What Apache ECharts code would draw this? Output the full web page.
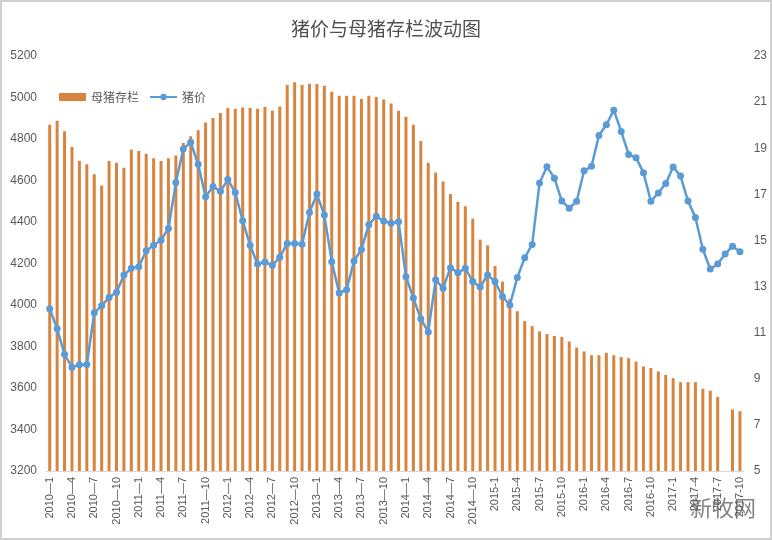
<!DOCTYPE html>
<html>
<head>
<meta charset="utf-8">
<script src="https://cdn.jsdelivr.net/npm/echarts@6/dist/echarts.min.js"></script>
<style>
html,body{margin:0;padding:0;background:#fff;}
#c{width:772px;height:540px;box-sizing:border-box;border:2px solid #d0d0d0;}
</style>
</head>
<body>
<div id="c"></div>
<script>
// Categories: 2010-1 .. 2017-10
const years = [2010,2011,2012,2013,2014,2015,2016,2017];
const categories = [];
years.forEach(y => {
  for (let m = 1; m <= 12; m++) {
    if (y === 2017 && m > 10) break;
    const sep = (y < 2015) ? '—' : '-';
    categories.push(y + sep + m);
  }
});

// 母猪存栏 (left axis, 万头)
const sowInventory = [
  4869,4888,4837,4761,4694,4678,4630,4576,4694,4686,4662,4750,
  4742,4729,4707,4694,4707,4721,4781,4813,4842,4880,4901,4925,
  4949,4946,4952,4949,4946,4954,4937,4957,5060,5073,5060,5066,
  5065,5057,5028,5009,5009,5008,4993,5009,5003,4990,4971,4936,
  4907,4869,4790,4685,4638,4595,4535,4498,4476,4416,4315,4288,
  4188,4113,4030,3970,3922,3898,3873,3860,3851,3846,3824,3795,
  3776,3758,3758,3770,3758,3749,3744,3727,3704,3696,3680,3663,
  3647,3628,3628,3628,3596,3587,3557,null,3497,3488
];

// 猪价 (right axis, 元/kg)
const pigPrice = [
  12.04,11.17,10.06,9.50,9.61,9.62,11.86,12.17,12.53,12.75,13.50,13.79,
  13.86,14.55,14.79,15.01,15.52,17.51,18.97,19.26,18.30,16.90,17.34,17.13,
  17.64,17.08,15.85,14.79,13.98,14.06,13.92,14.27,14.87,14.87,14.84,16.21,
  17.01,16.10,14.08,12.72,12.86,14.11,14.61,15.68,16.05,15.84,15.75,15.81,
  13.43,12.50,11.60,11.03,13.29,12.93,13.82,13.60,13.79,13.22,12.98,13.50,
  13.22,12.57,12.20,13.39,14.25,14.82,17.49,18.20,17.70,16.71,16.40,16.70,
  18.02,18.22,19.55,20.02,20.65,19.73,18.73,18.59,17.94,16.70,17.06,17.47,
  18.19,17.79,16.71,16.00,14.62,13.76,13.98,14.41,14.75,14.51
];

const chart = echarts.init(document.getElementById('c'), null, {renderer:'canvas'});
const cjk = '"Noto Sans CJK SC", "Noto Sans", sans-serif';
const latin = '"Liberation Sans", Arial, sans-serif';
chart.setOption({
  backgroundColor: '#ffffff',
  animation: false,
  title: {
    text: '猪价与母猪存栏波动图',
    left: 'center',
    top: 12,
    textStyle: {fontFamily: cjk, fontSize: 19, fontWeight: 'normal', color: '#505050'}
  },
  legend: {
    left: 52,
    top: 84,
    itemGap: 10,
    textStyle: {fontFamily: cjk, fontSize: 12, color: '#595959'},
    data: [
      {name: '母猪存栏', icon: 'rect', itemStyle: {color: '#D9843E'}},
      {name: '猪价'}
    ],
    itemWidth: 27,
    itemHeight: 8
  },
  grid: {left: 44, right: 26, top: 54, bottom: 67, containLabel: false},
  xAxis: {
    type: 'category',
    data: categories,
    boundaryGap: true,
    axisLine: {show: true, lineStyle: {color: '#d9d9d9'}},
    axisTick: {show: false},
    axisLabel: {
      interval: 2,
      rotate: 90,
      fontSize: 11,
      color: '#595959',
      fontFamily: latin,
      margin: 6
    }
  },
  yAxis: [
    {
      type: 'value', min: 3200, max: 5200, interval: 200,
      axisLine: {show: false}, axisTick: {show: false},
      splitLine: {show: false},
      axisLabel: {color: '#595959', fontSize: 12, margin: 9, fontFamily: latin,
        formatter: v => String(v)}
    },
    {
      type: 'value', min: 5, max: 23, interval: 2,
      axisLine: {show: false}, axisTick: {show: false},
      splitLine: {show: false},
      axisLabel: {color: '#595959', fontSize: 12, margin: 10, fontFamily: latin,
        formatter: v => String(v)}
    }
  ],
  series: [
    {
      name: '母猪存栏',
      type: 'bar',
      yAxisIndex: 0,
      data: sowInventory,
      barWidth: 3,
      itemStyle: {color: '#D9843E'}
    },
    {
      name: '猪价',
      type: 'line',
      yAxisIndex: 1,
      data: pigPrice,
      symbol: 'circle',
      symbolSize: 7,
      showAllSymbol: true,
      lineStyle: {color: '#5B9BD5', width: 2.5},
      itemStyle: {color: '#5B9BD5'}
    }
  ],
  graphic: [
    {
      type: 'text',
      right: 14,
      top: 495,
      style: {text: '新牧网', font: '22px "Noto Sans CJK SC"', fill: 'rgba(90,90,90,0.75)'}
    }
  ]
});
</script>
</body>
</html>
